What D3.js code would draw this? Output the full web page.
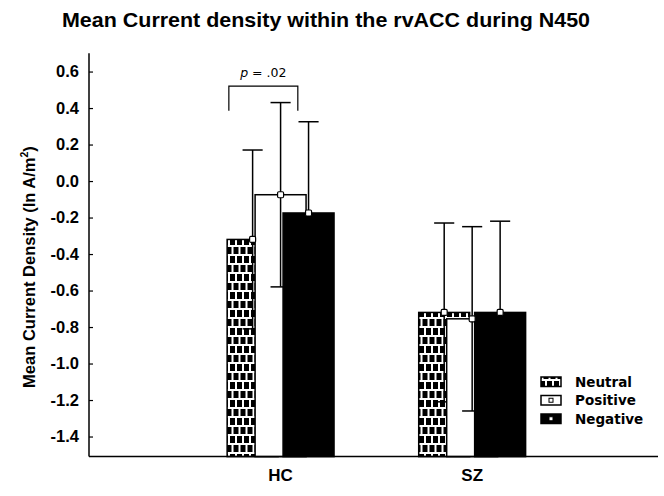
<!DOCTYPE html>
<html>
<head>
<meta charset="utf-8">
<script src="https://cdn.jsdelivr.net/npm/d3@7"></script>
<style>
  html, body { margin: 0; padding: 0; background: #fff; }
  svg { display: block; font-family: "Liberation Sans", Arial, sans-serif; }
</style>
</head>
<body>
<svg id="chart" width="664" height="496"></svg>
<script>
// Groups and conditions
const groups = ["HC", "SZ"];
const conditions = ["Neutral", "Positive", "Negative"];

// Mean current density per condition (rows: groups)
const neutralMeans  = [-0.32, -0.72];
const positiveMeans = [-0.075, -0.755];
const negativeMeans = [-0.175, -0.72];

// Error bar half-lengths
const neutralErr  = [0.49, 0.49];
const positiveErr = [0.505, 0.505];
const negativeErr = [0.50, 0.50];

const yTicks = [0.6, 0.4, 0.2, 0.0, -0.2, -0.4, -0.6, -0.8, -1.0, -1.2, -1.4];

// Significance annotation for HC (x in group units, y in data units)
const sigBracket = { x0: 0.73, x1: 1.09, yTop: 0.52, yEnd: 0.385, label: ".02" };

const svg = d3.select("#chart");

const x = d3.scaleLinear().domain([0, 2.97]).range([89, 658]);
const y = d3.scaleLinear().domain([-1.51, 0.7]).range([456.6, 53.3]);

const barW = 0.266;    // bar width in group units
const step = 0.146;    // offset between overlapping bars
const capW = 0.105;

// Brick pattern used for the Neutral condition
const defs = svg.append("defs");
const pat = defs.append("pattern")
  .attr("id", "brick")
  .attr("patternUnits", "userSpaceOnUse")
  .attr("width", 7).attr("height", 18)
  .attr("x", 228).attr("y", 2);
pat.append("rect").attr("width", 7).attr("height", 18).attr("fill", "#000");
pat.append("rect").attr("x", 0).attr("y", 0).attr("width", 7).attr("height", 2).attr("fill", "#fff");
pat.append("rect").attr("x", 0).attr("y", 9).attr("width", 7).attr("height", 2).attr("fill", "#fff");
pat.append("rect").attr("x", 0).attr("y", 0).attr("width", 2).attr("height", 11).attr("fill", "#fff");
pat.append("rect").attr("x", 3.5).attr("y", 9).attr("width", 2).attr("height", 9).attr("fill", "#fff");

const series = [
  { name: "Neutral",  means: neutralMeans,  errs: neutralErr,  fill: "url(#brick)" },
  { name: "Positive", means: positiveMeans, errs: positiveErr, fill: "#fff" },
  { name: "Negative", means: negativeMeans, errs: negativeErr, fill: "#000" }
];

const base = y.domain()[0];
const plot = svg.append("g");

// Draw each bar followed by its error bar, so later bars overlap earlier ones
groups.forEach((g, gi) => {
  series.forEach((s, si) => {
    const cx = gi + 1 + (si - 1) * step;
    const m = s.means[gi], e = s.errs[gi];
    const xl = x(cx - barW / 2), xr = x(cx + barW / 2);
    plot.append("rect")
      .attr("x", xl).attr("y", y(m))
      .attr("width", xr - xl).attr("height", y(base) - y(m))
      .attr("fill", s.fill).attr("stroke", "#000").attr("stroke-width", 1.5);
    const eg = plot.append("g").attr("stroke", "#000").attr("stroke-width", 1.5).attr("fill", "none");
    eg.append("line").attr("x1", x(cx)).attr("x2", x(cx)).attr("y1", y(m + e)).attr("y2", y(m - e));
    eg.append("line").attr("x1", x(cx - capW / 2)).attr("x2", x(cx + capW / 2)).attr("y1", y(m + e)).attr("y2", y(m + e));
    eg.append("line").attr("x1", x(cx - capW / 2)).attr("x2", x(cx + capW / 2)).attr("y1", y(m - e)).attr("y2", y(m - e));
  });
  // mean markers
  series.forEach((s, si) => {
    const cx = gi + 1 + (si - 1) * step;
    plot.append("rect")
      .attr("x", x(cx) - 3).attr("y", y(s.means[gi]) - 3)
      .attr("width", 6).attr("height", 6).attr("rx", 1.2)
      .attr("fill", "#fff").attr("stroke", "#000").attr("stroke-width", 1.2);
  });
});

// Axes
const yAxis = d3.axisRight(y).tickValues(yTicks).tickSize(4).tickFormat(d3.format(".1f"));
const ya = svg.append("g").attr("transform", `translate(${x(0)},0)`).call(yAxis);
ya.select(".domain").remove();
ya.selectAll(".tick line").attr("stroke", "#000").attr("stroke-width", 1.2);
ya.selectAll(".tick text")
  .attr("x", -10).attr("text-anchor", "end")
  .attr("font-size", 16.5).attr("font-weight", "bold").attr("fill", "#000")
  .text(d => d3.format(".1f")(d).replace("−", "-"));

svg.append("line").attr("x1", x(0)).attr("x2", x(0)).attr("y1", y(0.7)).attr("y2", y(base))
  .attr("stroke", "#000").attr("stroke-width", 1.5);
svg.append("line").attr("x1", x(0)).attr("x2", x(2.97)).attr("y1", y(base)).attr("y2", y(base))
  .attr("stroke", "#000").attr("stroke-width", 1.5);

// Group labels
svg.selectAll(".glabel").data(groups).enter().append("text")
  .attr("x", (d, i) => x(i + 1)).attr("y", 481)
  .attr("text-anchor", "middle").attr("font-size", 17).attr("font-weight", "bold")
  .text(d => d);

// Y-axis title
const yt = svg.append("text")
  .attr("transform", "translate(35,267) rotate(-90)")
  .attr("text-anchor", "middle").attr("font-size", 16.5).attr("font-weight", "bold");
yt.append("tspan").text("Mean Current Density (ln A/m");
yt.append("tspan").attr("font-size", 10.5).attr("dy", -7).text("2");
yt.append("tspan").attr("dy", 7).text(")");

// Chart title
svg.append("text")
  .attr("x", 62).attr("y", 27)
  .attr("font-family", "'Liberation Sans Narrow', 'Arial Narrow', 'Liberation Sans', sans-serif")
  .attr("font-size", 21).attr("font-weight", "bold")
  .attr("textLength", 528).attr("lengthAdjust", "spacingAndGlyphs")
  .text("Mean Current density within the rvACC during N450");

// Significance bracket
svg.append("path")
  .attr("d", `M${x(sigBracket.x0)},${y(sigBracket.yEnd)}V${y(sigBracket.yTop)}H${x(sigBracket.x1)}V${y(sigBracket.yEnd)}`)
  .attr("fill", "none").attr("stroke", "#000").attr("stroke-width", 1.2);
const st = svg.append("text")
  .attr("x", (x(sigBracket.x0) + x(sigBracket.x1)) / 2).attr("y", y(sigBracket.yTop) - 9)
  .attr("text-anchor", "middle").attr("font-size", 12.5)
  .attr("font-family", "'DejaVu Sans', sans-serif");
st.append("tspan").attr("font-style", "italic").text("p");
st.append("tspan").text(" = " + sigBracket.label);

// Legend
const legend = svg.append("g").attr("transform", "translate(541,377)");
conditions.forEach((c, i) => {
  const row = legend.append("g").attr("transform", `translate(0,${i * 18.5})`);
  row.append("rect").attr("width", 20).attr("height", 9.5)
    .attr("fill", series[i].fill).attr("stroke", "#000").attr("stroke-width", 1.5);
  if (i > 0) {
    row.append("rect").attr("x", 8).attr("y", 2.75).attr("width", 4).attr("height", 4)
      .attr("fill", "#fff").attr("stroke", "#000").attr("stroke-width", 1);
  }
  row.append("text").attr("x", 34).attr("y", 9.5)
    .attr("font-family", "'DejaVu Sans', sans-serif")
    .attr("font-size", 13.5).attr("font-weight", "bold").text(c);
});
</script>
</body>
</html>
